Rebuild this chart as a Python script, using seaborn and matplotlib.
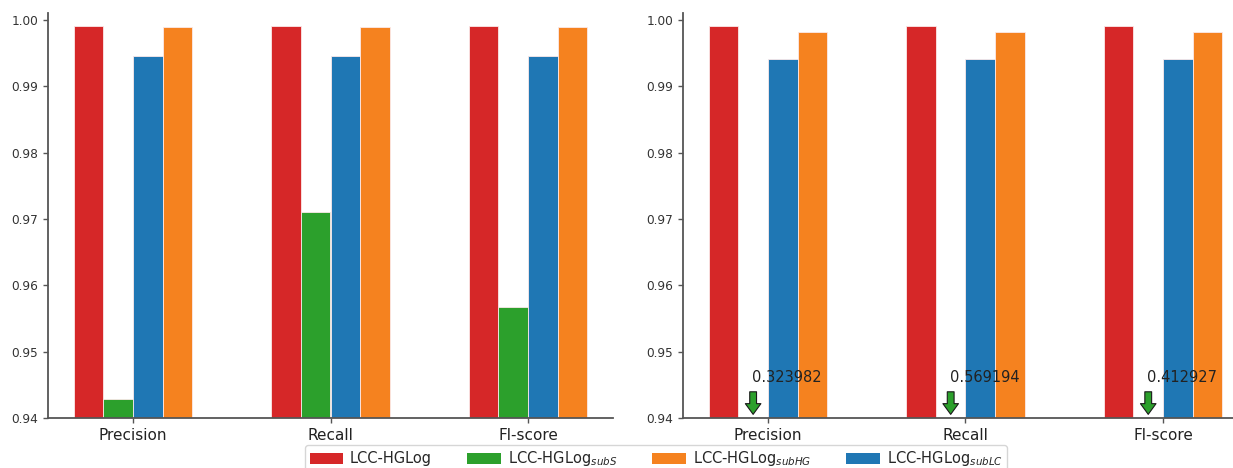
import matplotlib
matplotlib.use("Agg")
import matplotlib.pyplot as plt
import seaborn as sns
import pandas as pd
from matplotlib.patches import Patch

# Metrics on the x axis
metrics = ["Precision", "Recall", "Fl-score"]

# Model variants (bar order within each group)
models = ["LCC-HGLog", "LCC-HGLog$_{subS}$", "LCC-HGLog$_{subLC}$", "LCC-HGLog$_{subHG}$"]
colors = ["#d62728", "#2ca02c", "#1f77b4", "#f5821f"]

# Scores, left panel
left_full = [0.9991, 0.9991, 0.9991]
left_subS = [0.9428, 0.9710, 0.9567]
left_subLC = [0.9945, 0.9945, 0.9945]
left_subHG = [0.9989, 0.9989, 0.9989]

# Scores, right panel
right_full = [0.9991, 0.9991, 0.9991]
right_subS = [0.323982, 0.569194, 0.412927]
right_subLC = [0.9941, 0.9941, 0.9941]
right_subHG = [0.9982, 0.9982, 0.9982]

# Legend order
legend_order = [0, 1, 3, 2]

sns.set_style("ticks")
plt.rcParams["font.family"] = ["DejaVu Sans"]
plt.rcParams["axes.edgecolor"] = "#555555"
plt.rcParams["xtick.color"] = "#555555"
plt.rcParams["ytick.color"] = "#555555"
plt.rcParams["xtick.labelcolor"] = "#222222"
plt.rcParams["ytick.labelcolor"] = "#333333"


def long_frame(series):
    rows = []
    for model, vals in zip(models, series):
        for m, v in zip(metrics, vals):
            rows.append({"metric": m, "model": model, "score": v})
    return pd.DataFrame(rows)


fig = plt.figure(figsize=(12.33, 4.68), dpi=100)
W, H = 1233.0, 468.0
ax_l = fig.add_axes([48 / W, 50 / H, 565 / W, 405 / H])
ax_r = fig.add_axes([683 / W, 50 / H, 565 / W, 405 / H])

panels = [
    (ax_l, [left_full, left_subS, left_subLC, left_subHG]),
    (ax_r, [right_full, right_subS, right_subLC, right_subHG]),
]

for ax, series in panels:
    df = long_frame(series)
    sns.barplot(
        data=df, x="metric", y="score", hue="model",
        hue_order=models, palette=colors, saturation=1, width=0.6,
        edgecolor="#fbe9e9", linewidth=0.6, ax=ax, legend=False,
    )
    ax.set_ylim(0.94, 1.00105)
    ax.set_xlim(-0.43, 2.43)
    ax.set_yticks([0.94, 0.95, 0.96, 0.97, 0.98, 0.99, 1.00])
    ax.set_yticklabels(["0.94", "0.95", "0.96", "0.97", "0.98", "0.99", "1.00"])
    ax.tick_params(axis="y", labelsize=8.7, length=3.5, width=1)
    ax.tick_params(axis="x", labelsize=11, length=3.5, width=1)
    ax.set_xlabel("")
    ax.set_ylabel("")
    for s in ("left", "bottom"):
        ax.spines[s].set_linewidth(1.3)
    sns.despine(ax=ax)

# Off-scale subS values in the right panel: arrow plus printed value
green_bars = ax_r.containers[1]
for bar, val in zip(green_bars, right_subS):
    xc = bar.get_x() + bar.get_width() / 2
    ax_r.annotate(
        "", xy=(xc, 0.94055), xytext=(xc, 0.94395),
        arrowprops=dict(arrowstyle="simple,head_length=0.55,head_width=0.8,tail_width=0.35",
                        fc="#2ca02c", ec="#1a1a1a", lw=0.8, mutation_scale=14,
                        shrinkA=0, shrinkB=0),
    )
    ax_r.text(xc - 0.005, 0.94490, f"{val:.6f}", ha="left", va="bottom",
              fontsize=10.5, color="#222222")

handles = [Patch(facecolor=colors[i], edgecolor="none", label=models[i]) for i in legend_order]
fig.legend(
    handles=handles, loc="center", bbox_to_anchor=(656 / W, 1 - 459 / H),
    ncol=4, fontsize=10.5, frameon=True, handlelength=2.3, handleheight=0.75,
    handletextpad=0.45, columnspacing=2.45, borderpad=0.3, fancybox=True,
)

fig.savefig("out.png", dpi=100)
